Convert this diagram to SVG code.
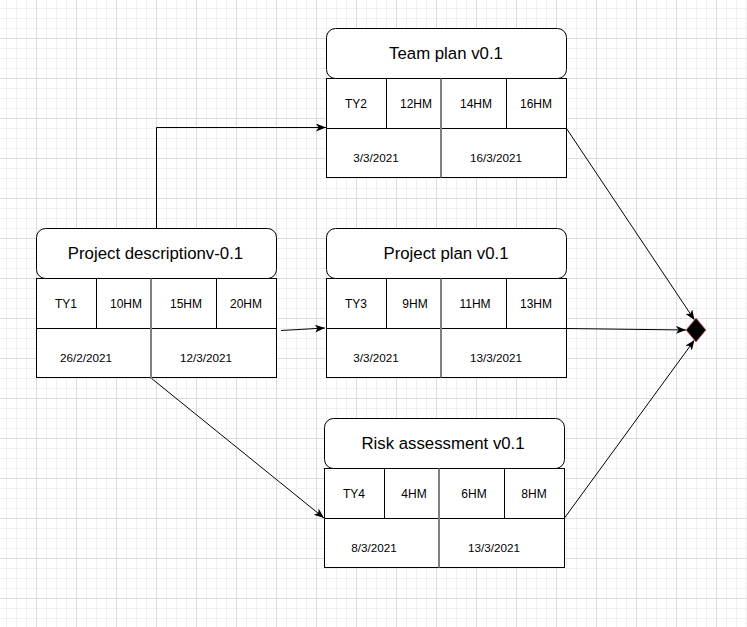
<svg xmlns="http://www.w3.org/2000/svg" width="747" height="627" viewBox="0 0 747 627">
<defs>
<pattern id="grid" patternUnits="userSpaceOnUse" x="-4" y="-2" width="40" height="40">
<rect x="10" y="0" width="1" height="40" fill="#f0f0f0"/>
<rect x="20" y="0" width="1" height="40" fill="#f0f0f0"/>
<rect x="30" y="0" width="1" height="40" fill="#f0f0f0"/>
<rect x="0" y="10" width="40" height="1" fill="#f0f0f0"/>
<rect x="0" y="20" width="40" height="1" fill="#f0f0f0"/>
<rect x="0" y="30" width="40" height="1" fill="#f0f0f0"/>
<rect x="0" y="0" width="1" height="40" fill="#dcdcdc"/>
<rect x="0" y="0" width="40" height="1" fill="#dcdcdc"/>
</pattern>
<marker id="arr" markerWidth="11" markerHeight="9" refX="10" refY="4" orient="auto" markerUnits="userSpaceOnUse">
<path d="M0,0 L10,4 L0,8 L2.5,4 z" fill="#000"/>
</marker>
<style>
.box{fill:#fff;stroke:#000;stroke-width:1}
.hdr{fill:#fff;stroke:#000;stroke-width:1}
.ln{stroke:#000;stroke-width:1;fill:none}
.gl{stroke:#808080;stroke-width:2;fill:none}
.t{font-family:"Liberation Sans",Arial,sans-serif;font-size:16.8px;fill:#000;text-anchor:middle}
.c{font-family:"Liberation Sans",Arial,sans-serif;font-size:12px;fill:#000;text-anchor:middle}
.d{font-family:"Liberation Sans",Arial,sans-serif;font-size:11.7px;fill:#000;text-anchor:middle}
.con{stroke:#000;stroke-width:1;fill:none;marker-end:url(#arr)}
</style>
</defs>
<rect x="0" y="0" width="747" height="627" fill="#fff"/>
<rect x="0" y="0" width="747" height="627" fill="url(#grid)"/>

<g id="connectors">
<polyline class="con" points="156.5,228 156.5,127.5 326,127.5"/>
<line class="con" x1="281" y1="330.5" x2="325" y2="328"/>
<line class="con" x1="151" y1="378" x2="324" y2="518"/>
<line class="con" x1="566.5" y1="128.5" x2="694.5" y2="320"/>
<line class="con" x1="566.5" y1="328.5" x2="686" y2="330"/>
<line class="con" x1="564.5" y1="518" x2="694.5" y2="340"/>
</g>

<g id="team-plan">
<rect class="box" x="326.5" y="78.5" width="240" height="99"/>
<rect class="hdr" x="326.5" y="28.5" width="240" height="50" rx="9" ry="9"/>
<line class="ln" x1="326.5" y1="128.5" x2="566.5" y2="128.5"/>
<line class="ln" x1="386.5" y1="78.5" x2="386.5" y2="128.5"/>
<line class="ln" x1="506.5" y1="78.5" x2="506.5" y2="128.5"/>
<line class="gl" x1="441" y1="78.5" x2="441" y2="177.5"/>
<text class="t" x="446" y="59">Team plan v0.1</text>
<text class="c" x="356" y="108">TY2</text>
<text class="c" x="416" y="108">12HM</text>
<text class="c" x="476" y="108">14HM</text>
<text class="c" x="536" y="108">16HM</text>
<text class="d" x="376" y="162">3/3/2021</text>
<text class="d" x="496" y="162">16/3/2021</text>
</g>

<g id="project-description">
<rect class="box" x="36.5" y="278.5" width="240" height="99"/>
<rect class="hdr" x="36.5" y="228.5" width="240" height="50" rx="9" ry="9"/>
<line class="ln" x1="36.5" y1="328.5" x2="276.5" y2="328.5"/>
<line class="ln" x1="96.5" y1="278.5" x2="96.5" y2="328.5"/>
<line class="ln" x1="216.5" y1="278.5" x2="216.5" y2="328.5"/>
<line class="gl" x1="151" y1="278.5" x2="151" y2="379"/>
<text class="t" x="155.5" y="259">Project descriptionv-0.1</text>
<text class="c" x="66" y="308">TY1</text>
<text class="c" x="126" y="308">10HM</text>
<text class="c" x="186" y="308">15HM</text>
<text class="c" x="246" y="308">20HM</text>
<text class="d" x="86" y="362">26/2/2021</text>
<text class="d" x="206" y="362">12/3/2021</text>
</g>

<g id="project-plan">
<rect class="box" x="326.5" y="278.5" width="240" height="99"/>
<rect class="hdr" x="326.5" y="228.5" width="240" height="50" rx="9" ry="9"/>
<line class="ln" x1="326.5" y1="328.5" x2="566.5" y2="328.5"/>
<line class="ln" x1="386.5" y1="278.5" x2="386.5" y2="328.5"/>
<line class="ln" x1="506.5" y1="278.5" x2="506.5" y2="328.5"/>
<line class="gl" x1="441" y1="278.5" x2="441" y2="377.5"/>
<text class="t" x="446" y="259">Project plan v0.1</text>
<text class="c" x="356" y="308">TY3</text>
<text class="c" x="415" y="308">9HM</text>
<text class="c" x="475" y="308">11HM</text>
<text class="c" x="536" y="308">13HM</text>
<text class="d" x="376" y="362">3/3/2021</text>
<text class="d" x="496" y="362">13/3/2021</text>
</g>

<g id="risk-assessment">
<rect class="box" x="324.5" y="468.5" width="240" height="99"/>
<rect class="hdr" x="324.5" y="418.5" width="240" height="50" rx="9" ry="9"/>
<line class="ln" x1="324.5" y1="518.5" x2="564.5" y2="518.5"/>
<line class="ln" x1="384.5" y1="468.5" x2="384.5" y2="518.5"/>
<line class="ln" x1="504.5" y1="468.5" x2="504.5" y2="518.5"/>
<line class="gl" x1="439" y1="468.5" x2="439" y2="567.5"/>
<text class="t" x="443" y="449">Risk assessment v0.1</text>
<text class="c" x="354" y="498">TY4</text>
<text class="c" x="414" y="498">4HM</text>
<text class="c" x="474" y="498">6HM</text>
<text class="c" x="534" y="498">8HM</text>
<text class="d" x="374" y="552">8/3/2021</text>
<text class="d" x="494" y="552">13/3/2021</text>
</g>

<g id="end-diamond">
<polygon points="686,330 696,318 706,330 696,342" fill="#000" stroke="#d46a6a" stroke-width="1"/>
</g>
</svg>
